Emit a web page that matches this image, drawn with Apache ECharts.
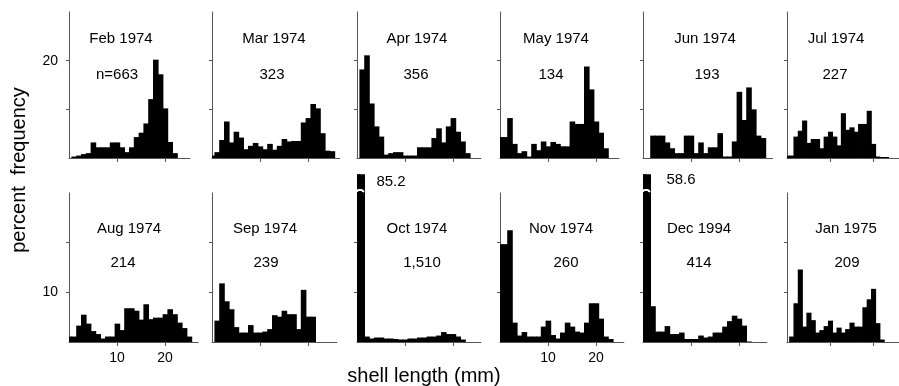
<!DOCTYPE html>
<html>
<head>
<meta charset="utf-8">
<script src="https://cdn.jsdelivr.net/npm/echarts@6/dist/echarts.min.js"></script>
<style>
  html, body { margin: 0; padding: 0; background: #fff; }
  #main { width: 899px; height: 386px; }
</style>
</head>
<body>
<div id="main"></div>
<script>
// percent frequency per 1 mm shell-length class (class k is centred on k mm)
var feb74 = [0, 0.3, 0.5, 0.8, 1.0, 3.2, 2.2, 2.2, 2.2, 3.2, 3.2, 2.2, 1.2, 2.2, 4.3, 5.2, 7.1, 12.1, 20.2, 17.2, 10.2, 3.3, 1.0];
var mar74 = [0.5, 1.2, 3.7, 7.5, 3.2, 5.4, 4.2, 1.8, 2.5, 3.1, 2.4, 1.8, 2.9, 1.7, 2.5, 3.9, 3.4, 3.5, 3.5, 7.3, 8.2, 11.1, 10.2, 5.1, 1.5, 1.4];
var apr74 = [0, 18.2, 21.1, 11.2, 6.5, 4.4, 0.7, 1.0, 1.2, 1.2, 0.5, 0.5, 0.5, 2.2, 2.2, 2.2, 4.1, 6.1, 3.2, 6.5, 8.2, 5.4, 3.4, 1.0];
var may74 = [4.3, 4.3, 8.2, 2.9, 1.0, 1.4, 0.3, 2.9, 1.6, 3.4, 2.4, 3.3, 2.9, 2.4, 2.4, 7.5, 7.0, 7.0, 18.8, 14.1, 7.5, 5.2, 2.0];
var jun74 = [0, 0, 4.6, 4.6, 4.6, 3.2, 2.0, 1.0, 1.0, 4.6, 4.6, 1.0, 3.2, 1.0, 2.2, 2.2, 5.1, 0.3, 0.3, 3.4, 13.6, 7.8, 14.5, 10.0, 4.6, 4.1];
var jul74 = [0.5, 0.5, 4.4, 5.6, 7.7, 3.1, 3.9, 3.9, 2.0, 4.4, 5.4, 4.4, 2.6, 9.2, 5.8, 6.3, 5.4, 7.0, 7.0, 9.7, 2.9, 0.3, 0.2, 0.2];
var aug74 = [1.1, 1.1, 3.3, 5.5, 3.7, 2.2, 1.6, 0.7, 1.1, 1.1, 3.7, 2.4, 6.8, 6.8, 6.3, 4.5, 7.6, 4.6, 4.9, 4.9, 5.6, 6.6, 5.6, 3.9, 2.8, 1.1];
var sep74 = [0, 4.3, 11.8, 8.2, 6.6, 3.0, 1.9, 1.9, 3.4, 1.9, 1.9, 2.1, 2.6, 5.4, 5.1, 6.3, 5.6, 5.6, 2.6, 10.5, 5.1, 5.1];
var oct74 = [85.2, 85.2, 1.1, 0.7, 0.9, 0.9, 0.7, 0.7, 0.6, 0.5, 0.5, 0.7, 0.7, 0.9, 0.9, 1.1, 1.1, 1.3, 2.0, 1.6, 1.6, 1.1, 0.5];
var nov74 = [19.7, 19.7, 22.5, 3.9, 1.3, 2.0, 1.1, 1.1, 1.1, 3.1, 4.3, 1.4, 0.7, 1.9, 3.9, 3.1, 2.1, 1.9, 3.9, 7.8, 7.8, 4.7, 1.1, 0.6];
var dec94 = [58.6, 58.6, 7.2, 2.1, 2.1, 3.2, 1.6, 1.6, 1.9, 0.6, 0.6, 0.6, 1.3, 0.9, 1.1, 1.9, 1.9, 3.1, 4.2, 5.3, 4.7, 3.3, 0.1];
var jan75 = [0, 1.1, 7.8, 14.6, 3.1, 5.9, 4.4, 1.9, 2.4, 3.2, 4.3, 1.9, 2.9, 1.9, 2.6, 3.9, 3.1, 3.1, 7.0, 8.6, 10.7, 3.8, 0.5];

var panelData = [feb74, mar74, apr74, may74, jun74, jul74, aug74, sep74, oct74, nov74, dec94, jan75];
var months = ["Feb 1974", "Mar 1974", "Apr 1974", "May 1974", "Jun 1974", "Jul 1974",
              "Aug 1974", "Sep 1974", "Oct 1974", "Nov 1974", "Dec 1994", "Jan 1975"];
var counts = ["n=663", "323", "356", "134", "193", "227", "214", "239", "1,510", "260", "414", "209"];
var brokenLabels = { 8: "85.2", 10: "58.6" };
var yMax = 30;
var xTicks = [10, 20];
var axisLenMm = [25.2, 26.6, 25.8, 24.8, 27, 26, 26.9, 26, 25.8, 25.8, 25.8, 26];

// layout
var colLeft = [69, 212, 357, 500, 643, 787];
var rowTop = [12, 193];
var rowHeight = [146, 149];
var pxPerMm = 4.8;
var titleX = [121, 274, 417, 556, 705, 836, 129, 265, 417, 561, 699, 846];
var countX = [117, 272, 416, 551, 707, 835, 123, 266, 422, 566, 699, 847];
var titleY = [39, 229];
var countY = [75, 263];
var brokenPos = { 8: [391, 182], 10: [681, 180] };
var font = "Liberation Sans, Arial, Helvetica, sans-serif";

var myChart = echarts.init(document.getElementById("main"));

var grids = [], xAxes = [], yAxes = [], series = [], graphics = [];

for (var i = 0; i < 12; i++) {
  var row = Math.floor(i / 6), col = i % 6;
  grids.push({
    left: colLeft[col],
    top: rowTop[row],
    width: axisLenMm[i] * pxPerMm,
    height: rowHeight[row],
    containLabel: false
  });
  var showX = (i === 6 || i === 9);
  xAxes.push({
    gridIndex: i,
    type: "value",
    min: 0,
    max: axisLenMm[i],
    axisLine: { show: true, onZero: false, lineStyle: { color: "#555", width: 1 } },
    axisTick: { show: true, length: 4, customValues: xTicks, lineStyle: { color: "#555" } },
    axisLabel: { show: showX, customValues: xTicks, margin: 9, fontSize: 14, color: "#000", fontFamily: font },
    splitLine: { show: false }
  });
  var yLab = i === 0 ? [20] : (i === 6 ? [10] : []);
  yAxes.push({
    gridIndex: i,
    type: "value",
    min: 0,
    max: yMax,
    axisLine: { show: true, lineStyle: { color: "#555", width: 1 } },
    axisTick: { show: true, length: 3, customValues: [10, 20], lineStyle: { color: "#555" } },
    axisLabel: { show: yLab.length > 0, customValues: yLab, margin: 11, fontSize: 14, color: "#000", fontFamily: font },
    splitLine: { show: false }
  });
  series.push({
    type: "custom",
    xAxisIndex: i,
    yAxisIndex: i,
    clip: false,
    silent: true,
    encode: { x: 0, y: 1 },
    data: panelData[i].map(function (v, k) { return [k, v]; }),
    renderItem: function (params, api) {
      var k = api.value(0), v = api.value(1);
      if (!v) return null;
      var top = v > yMax ? yMax + 3.8 : v;
      var p0 = api.coord([Math.max(0, k - 0.5), 0]);
      var p1 = api.coord([k + 0.5, top]);
      // overlap neighbours a little so no seams show between classes
      var rect = {
        type: "rect",
        shape: { x: p0[0], y: p1[1], width: p1[0] - p0[0] + 0.8, height: p0[1] - p1[1] },
        style: { fill: "#000" }
      };
      if (v <= yMax) return rect;
      // axis break on the off-scale bar
      var yb = api.coord([0, yMax + 0.25])[1];
      var xa = api.coord([0, 0])[0] - 1;
      return {
        type: "group",
        children: [rect, {
          type: "polyline",
          shape: { points: [[xa, yb], [xa + 2, yb - 1.5], [xa + 4, yb - 2], [xa + 6, yb - 1.5], [xa + 8, yb]] },
          style: { stroke: "#fff", lineWidth: 1.6, fill: null },
          z2: 10
        }]
      };
    }
  });
  graphics.push({
    type: "text", x: titleX[i], y: titleY[row],
    style: { text: months[i], font: "15px " + font, fill: "#000", textAlign: "center", textVerticalAlign: "middle" }
  });
  graphics.push({
    type: "text", x: countX[i], y: countY[row],
    style: { text: counts[i], font: "15px " + font, fill: "#000", textAlign: "center", textVerticalAlign: "middle" }
  });
  if (brokenLabels[i]) {
    graphics.push({
      type: "text", x: brokenPos[i][0], y: brokenPos[i][1],
      style: { text: brokenLabels[i], font: "15px " + font, fill: "#000", textAlign: "center", textVerticalAlign: "middle" }
    });
  }
}

graphics.push({
  type: "text", x: 19, y: 170, rotation: Math.PI / 2,
  style: { text: "percent  frequency", font: "20px " + font, fill: "#000", textAlign: "center", textVerticalAlign: "middle" }
});
graphics.push({
  type: "text", x: 424, y: 376,
  style: { text: "shell length (mm)", font: "20px " + font, fill: "#000", textAlign: "center", textVerticalAlign: "middle" }
});

var option = {
  backgroundColor: "#fff",
  animation: false,
  grid: grids,
  xAxis: xAxes,
  yAxis: yAxes,
  series: series,
  graphic: graphics
};
myChart.setOption(option, true);
</script>
</body>
</html>
